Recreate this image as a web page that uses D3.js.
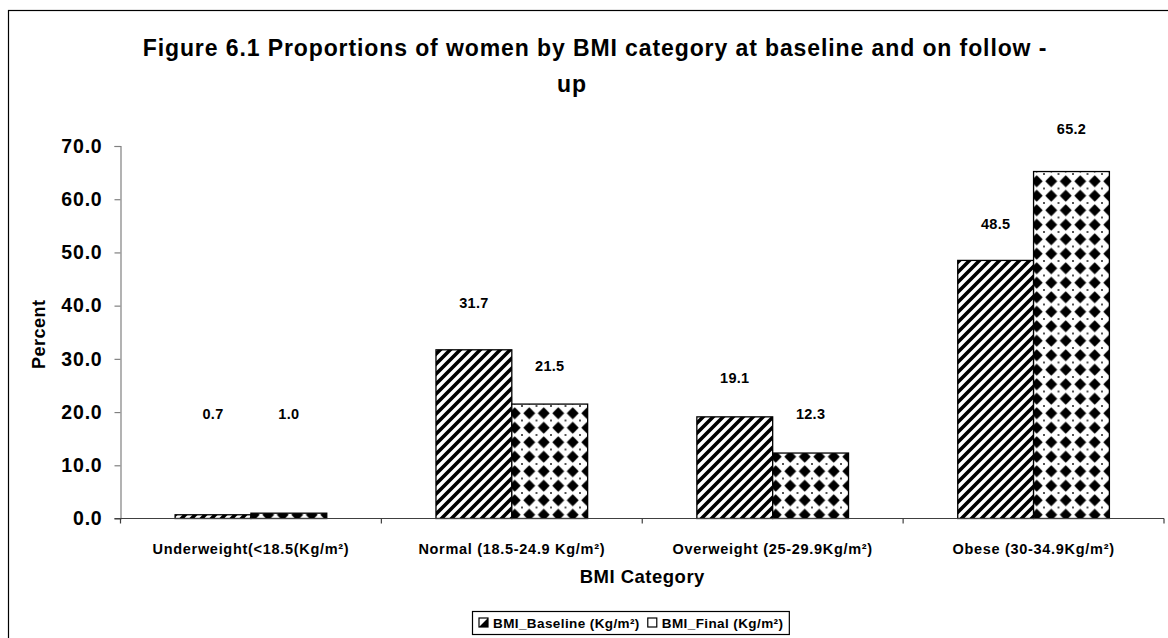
<!DOCTYPE html>
<html>
<head>
<meta charset="utf-8">
<script src="https://cdn.jsdelivr.net/npm/d3@7"></script>
<style>
  html, body { margin: 0; padding: 0; background: #fff; }
  svg { display: block; font-family: "Liberation Sans", Arial, sans-serif; }
</style>
</head>
<body>
<svg id="chart" width="1168" height="638"></svg>
<script>
// BMI categories and the two measurement rounds
const categories = [
  "Underweight(<18.5(Kg/m\u00B2)",
  "Normal (18.5-24.9 Kg/m\u00B2)",
  "Overweight (25-29.9Kg/m\u00B2)",
  "Obese (30-34.9Kg/m\u00B2)"
];
const seriesNames = ["BMI_Baseline (Kg/m\u00B2)", "BMI_Final (Kg/m\u00B2)"];
const baseline = [0.7, 31.7, 19.1, 48.5];
const finalValues = [1.0, 21.5, 12.3, 65.2];
const yTicks = [0, 10, 20, 30, 40, 50, 60, 70];

// how far each value label sits above its bar (px), baseline then final
const labelLift = [
  [101, 47, 39, 36],
  [99, 38, 39, 43]
];

const svg = d3.select("#chart");
const defs = svg.append("defs");

// wide upward diagonal stripes
const stripe = defs.append("pattern")
  .attr("id", "stripes")
  .attr("patternUnits", "userSpaceOnUse")
  .attr("width", 10).attr("height", 10);
stripe.append("rect").attr("width", 10).attr("height", 10).attr("fill", "#fff");
stripe.append("path")
  .attr("d", "M-2.5,2.5 L2.5,-2.5 M-2.5,12.5 L12.5,-2.5 M7.5,12.5 L12.5,7.5")
  .attr("stroke", "#000").attr("stroke-width", 3.6);

// black diamonds on white
const dp = 14.5;
const diamond = defs.append("pattern")
  .attr("id", "diamonds")
  .attr("patternUnits", "userSpaceOnUse")
  .attr("width", dp).attr("height", dp);
diamond.append("rect").attr("width", dp).attr("height", dp).attr("fill", "#fff");
diamond.append("path")
  .attr("d", `M${dp/2},${dp/2 - 6} L${dp/2 + 6},${dp/2} L${dp/2},${dp/2 + 6} L${dp/2 - 6},${dp/2} Z`)
  .attr("fill", "#000");
diamond.append("g").selectAll("circle")
  .data([[0,0],[dp,0],[0,dp],[dp,dp]])
  .join("circle")
  .attr("cx", d => d[0]).attr("cy", d => d[1]).attr("r", 0.9).attr("fill", "#000");

// outer chart frame
svg.append("rect")
  .attr("x", 8.5).attr("y", 10.5)
  .attr("width", 1300).attr("height", 800)
  .attr("fill", "none").attr("stroke", "#000").attr("stroke-width", 1.2);

const plotLeft = 120.5, plotRight = 1164, plotTop = 146, plotBottom = 518.5;

const x = d3.scaleBand().domain(categories).range([plotLeft, plotRight]).paddingInner(0).paddingOuter(0);
const xs = d3.scaleBand().domain(seriesNames).range([0, x.bandwidth()]).paddingInner(0).paddingOuter(0.72);
const y = d3.scaleLinear().domain([0, 70]).range([plotBottom, plotTop]);

// title
const title = svg.append("text")
  .attr("text-anchor", "middle")
  .attr("font-weight", "bold").attr("font-size", 23)
  .attr("letter-spacing", 0.9)
  .attr("fill", "#000");
title.append("tspan").attr("x", 595).attr("y", 56)
  .text("Figure 6.1 Proportions of women by BMI category at baseline and on follow -");
title.append("tspan").attr("x", 572).attr("y", 92).text("up");

// y axis
const yAxis = svg.append("g")
  .attr("transform", `translate(${plotLeft},0)`)
  .call(d3.axisLeft(y).tickValues(yTicks).tickFormat(d3.format(".1f")).tickSize(6).tickPadding(12));
yAxis.select(".domain").attr("stroke", "#808080").attr("stroke-width", 1.2);
yAxis.selectAll(".tick line").attr("stroke", "#808080").attr("stroke-width", 1.2);
yAxis.selectAll(".tick text")
  .attr("font-family", "Liberation Sans, Arial, sans-serif")
  .attr("font-size", 19.5).attr("letter-spacing", 0.8)
  .attr("font-weight", "bold").attr("fill", "#000");

// bars
const seriesData = [baseline, finalValues];
const fills = ["url(#stripes)", "url(#diamonds)"];
seriesData.forEach((vals, si) => {
  svg.append("g").selectAll("rect")
    .data(vals)
    .join("rect")
    .attr("x", (d, i) => x(categories[i]) + xs(seriesNames[si]))
    .attr("y", d => y(d))
    .attr("width", xs.bandwidth())
    .attr("height", d => y(0) - y(d))
    .attr("fill", fills[si])
    .attr("stroke", "#000").attr("stroke-width", 1.3);

  svg.append("g").selectAll("text")
    .data(vals)
    .join("text")
    .attr("x", (d, i) => x(categories[i]) + xs(seriesNames[si]) + xs.bandwidth() / 2)
    .attr("y", (d, i) => y(d) - labelLift[si][i])
    .attr("dy", "0.35em")
    .attr("text-anchor", "middle")
    .attr("font-size", 14.5).attr("letter-spacing", 0.3).attr("font-weight", "bold")
    .text(d => d3.format(".1f")(d));
});

// x axis with ticks between categories
const xAxisG = svg.append("g").attr("transform", `translate(0,${plotBottom})`);
xAxisG.append("line")
  .attr("x1", plotLeft - 6).attr("x2", plotRight)
  .attr("stroke", "#404040").attr("stroke-width", 1.2);
const boundaries = categories.map(c => x(c)).concat([plotRight]);
xAxisG.selectAll("line.tick")
  .data(boundaries)
  .join("line").attr("class", "tick")
  .attr("x1", d => d).attr("x2", d => d)
  .attr("y1", 0).attr("y2", 5)
  .attr("stroke", "#404040").attr("stroke-width", 1.2);
xAxisG.selectAll("text")
  .data(categories)
  .join("text")
  .attr("x", d => x(d) + x.bandwidth() / 2)
  .attr("y", 35)
  .attr("text-anchor", "middle")
  .attr("font-size", 14.5).attr("letter-spacing", 0.7).attr("font-weight", "bold")
  .text(d => d);

// axis titles
svg.append("text")
  .attr("x", (plotLeft + plotRight) / 2).attr("y", 583)
  .attr("text-anchor", "middle")
  .attr("font-size", 18.5).attr("letter-spacing", 0.5).attr("font-weight", "bold")
  .text("BMI Category");
svg.append("text")
  .attr("transform", `translate(45,${(plotTop + plotBottom) / 2 + 2}) rotate(-90)`)
  .attr("text-anchor", "middle")
  .attr("font-size", 18).attr("letter-spacing", 0.5).attr("font-weight", "bold")
  .text("Percent");

// legend
const legend = svg.append("g");
const legendBox = legend.append("rect")
  .attr("fill", "#fff").attr("stroke", "#000").attr("stroke-width", 1.2);
const swatchSize = 9;
let lx = 479;
const ly = 623;
seriesNames.forEach((name, si) => {
  const sw = legend.append("g").attr("transform", `translate(${lx},${ly - swatchSize / 2 - 0.5})`);
  sw.append("rect").attr("width", swatchSize).attr("height", swatchSize)
    .attr("fill", "#fff").attr("stroke", "#000").attr("stroke-width", 1.2);
  if (si === 0) {
    sw.append("path")
      .attr("d", `M${swatchSize},0 L${swatchSize},${swatchSize} L0,${swatchSize} Z`)
      .attr("fill", "#000");
  }
  const t = legend.append("text")
    .attr("x", lx + swatchSize + 5).attr("y", ly)
    .attr("dy", "0.35em")
    .attr("font-size", 13.5).attr("letter-spacing", 0.4).attr("font-weight", "bold")
    .text(name);
  lx += swatchSize + 5 + t.node().getComputedTextLength() + 8;
});
legendBox.attr("x", 472.5).attr("y", 611.5).attr("width", lx - 472.5 - 2).attr("height", 23);
</script>
</body>
</html>
